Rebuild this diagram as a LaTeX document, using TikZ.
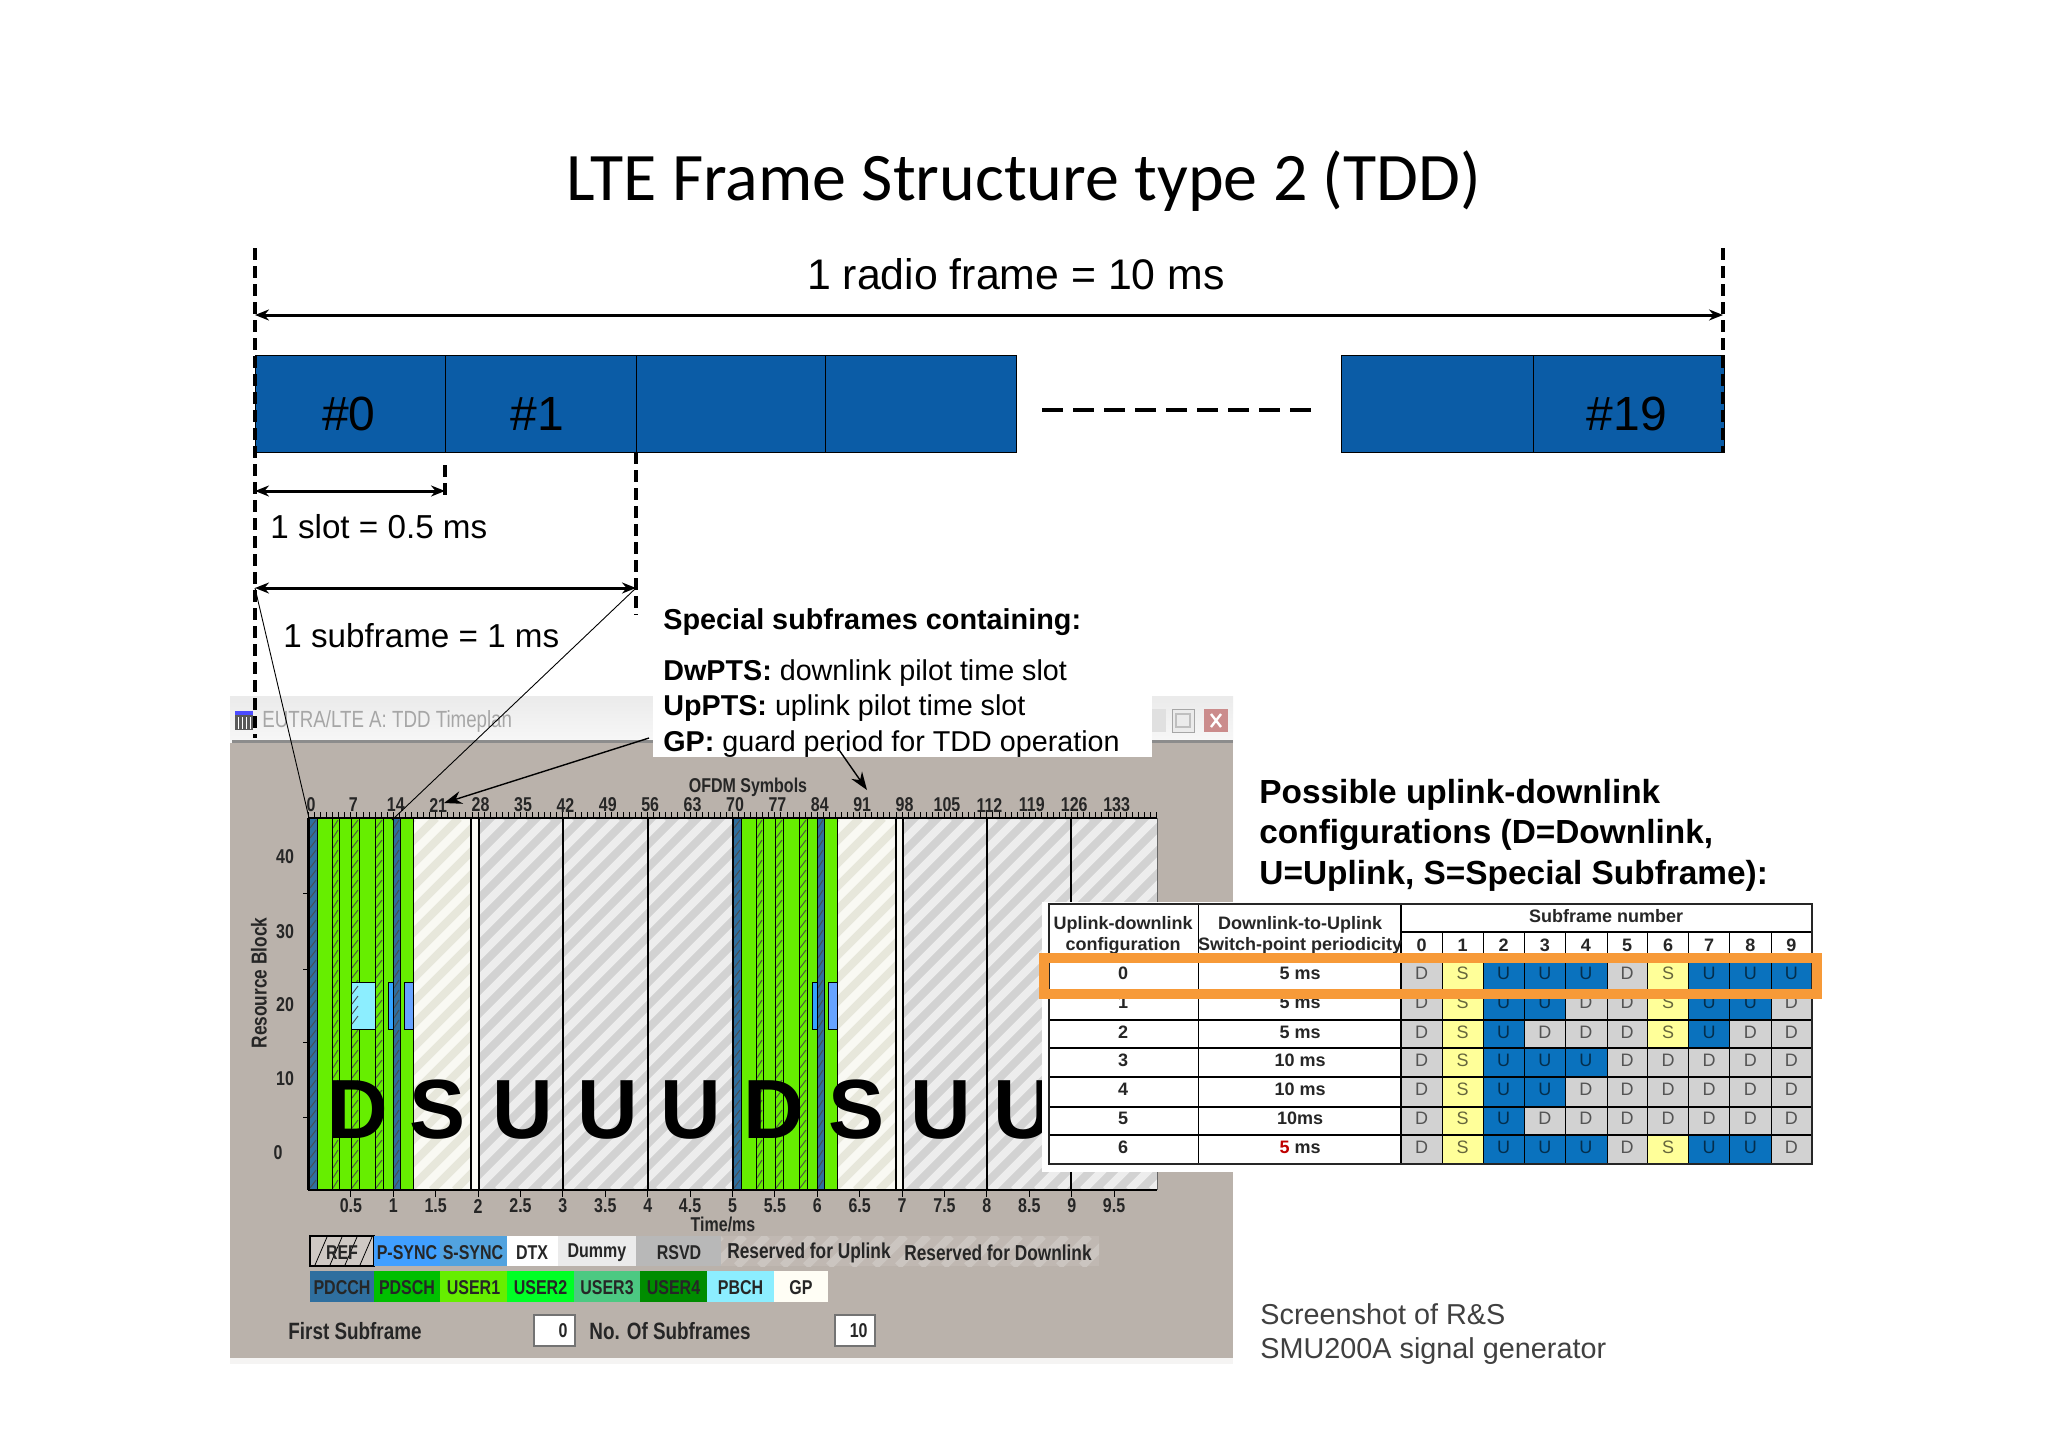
\documentclass[tikz,border=0pt]{standalone}
\usepackage{fontspec}
\usetikzlibrary{arrows.meta}
\setmainfont{Liberation Sans}
\newfontfamily\titlefont{Carlito}
\newfontfamily\shotfont[FakeStretch=0.8]{Liberation Sans}

\definecolor{framebar}{HTML}{0B5CA6}
\definecolor{windowgrey}{HTML}{BAB2AB}
\definecolor{pdschgreen}{HTML}{66EE00}
\definecolor{pdcchblue}{HTML}{2F6F9F}
\definecolor{pbchcyan}{HTML}{8CEEFF}
\definecolor{gpwhite}{HTML}{F9F9F3}
\definecolor{gpstripe}{HTML}{E7E7DB}
\definecolor{highlight}{HTML}{F79A38}
\definecolor{cellD}{HTML}{D2D2D2}
\definecolor{cellS}{HTML}{FFFF99}
\definecolor{cellU}{HTML}{0A72BE}

\tikzset{
    label20/.style={font=\fontsize{21.4}{24}\selectfont, inner sep=0pt},
    label24/.style={font=\fontsize{24}{28}\selectfont, inner sep=0pt},
    label16/.style={font=\fontsize{16.6}{20}\selectfont, inner sep=0pt, anchor=west},
    note/.style={font=\fontsize{14.35}{18}\selectfont, inner sep=0pt, anchor=west},
    subheading/.style={font=\fontsize{14.4}{18}\selectfont\bfseries, inner sep=0pt, anchor=west},
    heading/.style={font=\fontsize{16.7}{20}\selectfont\bfseries, inner sep=0pt, anchor=west},
    caption/.style={font=\fontsize{14.4}{18}\selectfont, text=black!75, inner sep=0pt, anchor=west},
    shot/.style={font=\shotfont\fontsize{10}{11}\selectfont\bfseries, text=black!85, inner sep=0pt},
    shotlarge/.style={font=\shotfont\fontsize{11.8}{13}\selectfont\bfseries, text=black!85, inner sep=0pt},
    shotmid/.style={font=\shotfont\fontsize{10.8}{12}\selectfont\bfseries, text=black!85, inner sep=0pt},
    bigletter/.style={font=\fontsize{42}{43}\selectfont\bfseries, inner sep=0pt},
    tabletext/.style={font=\fontsize{9}{10}\selectfont\bfseries, text=black!85, inner sep=0pt},
    celltext/.style={font=\fontsize{9}{10}\selectfont, inner sep=0pt},
    cutline/.style={line width=1.6pt, dash pattern=on 6pt off 3pt},
    span/.style={{Stealth[length=7pt,width=5.5pt]}-{Stealth[length=7pt,width=5.5pt]}, line width=1.5pt},
    leader/.style={line width=0.45pt},
    pointer/.style={-{Stealth[length=9pt,width=6.5pt]}, line width=0.7pt},
    slotline/.style={draw=black, line width=0.4pt, fill=framebar},
    gridline/.style={line width=0.6pt},
    tableline/.style={line width=0.8pt},
}

% stripes used for the reserved and guard period areas
\newcommand{\hatchband}[6]{%
    \begin{scope}
        \clip (#1,#2) rectangle (#3,#4);
        \fill[#5] (#1,#2) rectangle (#3,#4);
        \pgfmathsetmacro{\bandh}{#4-#2}
        \pgfmathsetmacro{\xa}{#1-\bandh}
        \pgfmathsetmacro{\xb}{\xa+23}
        \foreach \x in {\xa,\xb,...,#3}
            \draw[#6, line width=4pt] (\x,#4) -- (\x+\bandh,#2);
    \end{scope}}

% narrow column with small diagonal strokes
\newcommand{\refband}[3]{%
    \fill[#3] (#1,818) rectangle (#2,1190);
    \foreach \y in {820,830,...,1180}
        \draw[black!70, line width=0.45pt] (#1+1,\y+8) -- (#2-1,\y);
    \draw[black, line width=0.35pt] (#1,818) -- (#1,1190) (#2,818) -- (#2,1190);}

\begin{document}
\begin{tikzpicture}[x=0.5pt, y=-0.5pt]
    \useasboundingbox (0,0) rectangle (2048,1447);
    \fill[white] (0,0) rectangle (2048,1447);

    % Title
    \node[font=\titlefont\fontsize{34}{38}\selectfont, inner sep=0pt] (title) at (1024,181) {LTE Frame Structure type 2 (TDD)};

    % The screenshot window
    \fill[windowgrey] (230,742) rectangle (1233,1361);
    \fill[white!85!windowgrey] (230,1358) rectangle (1233,1364);
    \shade[top color=black!8, bottom color=black!3] (230,696) rectangle (1233,742);
    \fill[black!45] (232,740) rectangle (1233,743);
    \fill[black!65] (235,711) rectangle (253,730);
    \fill[blue!70] (235,711) rectangle (253,715);
    \foreach \x in {238,242,...,250}
        \draw[white, line width=0.5pt] (\x,717) -- (\x,729);
    \node[shot, anchor=west, text=black!35, font=\shotfont\fontsize{11.7}{13}\selectfont] (wintitle) at (262,721) {EUTRA/LTE A: TDD Timeplan};
    \fill[black!12] (1152,709) rectangle (1166,732);
    \draw[black!35, fill=black!8] (1172,709) rectangle (1194,732);
    \draw[black!25, line width=1pt] (1176,714) rectangle (1190,727);
    \fill[red!55!black!45] (1204,709) rectangle (1228,732);
    \draw[white, line width=1.2pt] (1211,714) -- (1221,727) (1221,714) -- (1211,727);

    % Plot areas
    \hatchband{413}{818}{471}{1190}{gpwhite}{gpstripe}
    \hatchband{479}{818}{733}{1190}{cellD}{black!7}
    \hatchband{837}{818}{896}{1190}{gpwhite}{gpstripe}
    \hatchband{903}{818}{1157}{1190}{cellD}{black!7}
    \fill[gpwhite] (471,818) rectangle (479,1190);
    \fill[gpwhite] (896,818) rectangle (903,1190);

    % The two downlink subframes, 5 ms apart
    \foreach \s in {0,424} {
        \fill[pdschgreen] (317+\s,818) rectangle (413+\s,1190);
        \refband{309+\s}{317+\s}{pdcchblue}
        \refband{332+\s}{339+\s}{pdschgreen}
        \refband{351+\s}{359+\s}{pdschgreen}
        \refband{375+\s}{383+\s}{pdschgreen}
        \refband{393+\s}{400+\s}{pdcchblue}
        \draw[black, line width=0.35pt] (413+\s,818) -- (413+\s,1190);
        \draw[black, fill=blue!45!cyan!80, line width=0.4pt] (388+\s,982) rectangle (393+\s,1029);
        \draw[black, fill=blue!60!cyan!60, line width=0.4pt] (404+\s,982) rectangle (413+\s,1029);
    }
    \draw[black, fill=pbchcyan, line width=0.5pt] (351,982) rectangle (375,1029);
    \foreach \y in {986,996,...,1020}
        \draw[black!70, line width=0.45pt] (352,\y+8) -- (358,\y);

    % Vertical lines of the plot
    \foreach \x in {471,479,563,648,733,896,903,987,1071}
        \draw[gridline] (\x,818) -- (\x,1190);
    \draw[line width=0.5pt, black!60] (1157,818) -- (1157,1190);
    \draw[line width=1pt] (308,1190) -- (1157,1190);
    \draw[line width=0.7pt] (308,818) -- (1157,818);
    \draw[line width=0.7pt] (308,818) -- (308,1190);
    \foreach \y in {893,969,1042,1117}
        \draw[line width=0.5pt] (303,\y) -- (308,\y);

    % Top scale in OFDM symbols
    \foreach \n in {0,...,140}
        \draw[line width=0.5pt] (308.5+6.057*\n,812) -- (308.5+6.057*\n,818);
    \foreach \n [count=\i from 0] in {0,7,14,21,28,35,42,49,56,63,70,77,84,91,98,105,112,119,126,133}
        \node[shot] (sym\n) at (311+42.4*\i,805) {\n};
    \node[shot] (symtitle) at (748,787) {OFDM Symbols};

    % Bottom scale in ms
    \foreach \t [count=\i] in {0.5,1,1.5,2,2.5,3,3.5,4,4.5,5,5.5,6,6.5,7,7.5,8,8.5,9,9.5} {
        \draw[line width=0.5pt] (308.5+42.4*\i,1190) -- (308.5+42.4*\i,1197);
        \node[shot] (time\i) at (308.5+42.4*\i,1206) {\t};
    }
    \node[shot] (timetitle) at (723,1224) {Time/ms};

    % Left scale
    \foreach \v/\y in {40/857,30/932,20/1005,10/1079} 
        \node[shot] (rb\v) at (285,\y) {\v};
    \node[shot] (rb0) at (278,1153) {0};
    \node[shotmid, rotate=90] (rbtitle) at (259,983) {Resource Block};

    % Subframe letters
    \foreach \l/\x [count=\i] in {D/358,S/438,U/523,U/608,U/691,D/774,S/856,U/941,U/1024}
        \node[bigletter] (sub\i) at (\x,1110) {\l};

    % Legend, first row
    \draw[black, line width=0.6pt, fill=windowgrey!70] (310,1236) rectangle (374,1266);
    \foreach \x in {315,330,345,360}
        \draw[line width=0.4pt] (\x,1265) -- (\x+12,1237);
    \node[shot] (lgref) at (342,1253) {REF};
    \fill[blue!50!cyan!75] (374,1236) rectangle (440,1266);
    \node[shot] (lgpsync) at (407,1253) {P-SYNC};
    \fill[cyan!70!blue!70] (440,1236) rectangle (507,1266);
    \node[shot] (lgssync) at (473,1253) {S-SYNC};
    \fill[white] (507,1236) rectangle (558,1266);
    \node[shot] (lgdtx) at (532,1253) {DTX};
    \fill[black!8] (558,1236) rectangle (636,1266);
    \node[shot] (lgdummy) at (597,1253) {Dummy};
    \fill[black!28] (636,1236) rectangle (721,1266);
    \node[shot] (lgrsvd) at (679,1253) {RSVD};
    \hatchband{721}{1236}{1099}{1266}{windowgrey!92!white}{windowgrey!75!white}
    \node[shotmid] (lgresup) at (809,1253) {Reserved for Uplink};
    \node[shotmid] (lgresdown) at (998,1253) {Reserved for Downlink};

    % Legend, second row
    \foreach \xa/\xb/\c/\t in {310/374/pdcchblue/PDCCH, 374/440/green!75!black/PDSCH, 440/507/pdschgreen/USER1, 507/574/green!85!cyan/USER2, 574/640/green!40!teal!70/USER3, 640/707/green!55!black/USER4, 707/774/pbchcyan/PBCH, 774/828/yellow!4/GP} {
        \fill[\c] (\xa,1271) rectangle (\xb,1302);
        \node[shot] (lg\t) at ({(\xa+\xb)/2},1288) {\t};
    }

    % Bottom controls
    \node[shotlarge, anchor=west] (first) at (288,1331) {First Subframe};
    \draw[black!55, fill=white, line width=0.6pt] (534,1315) rectangle (575,1346);
    \node[shot, anchor=east] (firstval) at (568,1331) {0};
    \node[shotlarge, anchor=west] (count) at (589,1331) {No. Of Subframes};
    \draw[black!55, fill=white, line width=0.6pt] (835,1315) rectangle (875,1346);
    \node[shot, anchor=east] (countval) at (868,1331) {10};

    % White area behind the special subframes note
    \fill[white] (653,600) rectangle (1152,757);
    \node[subheading] (special) at (663,622) {Special subframes containing:};
    \node[note] (dwpts) at (663,673) {\textbf{DwPTS:} downlink pilot time slot};
    \node[note] (uppts) at (663,708) {\textbf{UpPTS:} uplink pilot time slot};
    \node[note] (gp) at (663,744) {\textbf{GP:} guard period for TDD operation};

    % The frame and its twenty slots
    \foreach \xa/\xb [count=\i] in {255/445,445/636,636/825,825/1016,1341/1533,1533/1724}
        \draw[slotline] (\xa,355) rectangle (\xb,452) coordinate (slot\i);
    \node[label24] (s0) at (349,414) {\#0};
    \node[label24] (s1) at (537,414) {\#1};
    \node[label24] (s19) at (1627,414) {\#19};
    \coordinate (GapA) at (1042,410);
    \coordinate (GapB) at (1311,410);
    \draw[line width=2.2pt, dash pattern=on 10.5pt off 5pt] (GapA) -- (GapB);

    % Cut lines
    \coordinate (FrameTop) at (255,248);
    \coordinate (FrameBottom) at (255,738);
    \coordinate (EndTop) at (1723,248);
    \coordinate (EndBottom) at (1723,452);
    \coordinate (SlotTop) at (445,465);
    \coordinate (SlotBottom) at (445,495);
    \coordinate (SubTop) at (636,452);
    \coordinate (SubBottom) at (636,615);
    \draw[cutline] (FrameTop) -- (FrameBottom);
    \draw[cutline] (EndTop) -- (EndBottom);
    \draw[cutline] (SlotTop) -- (SlotBottom);
    \draw[cutline] (SubTop) -- (SubBottom);

    % Durations
    \coordinate (FrameL) at (255,315);
    \coordinate (FrameR) at (1723,315);
    \draw[span] (FrameL) -- (FrameR);
    \node[label20] (framelabel) at (1016,274) {1 radio frame = 10 ms};
    \coordinate (SlotL) at (255,491);
    \coordinate (SlotR) at (445,491);
    \draw[span] (SlotL) -- (SlotR);
    \node[label16] (slotlabel) at (270,527) {1 slot = 0.5 ms};
    \coordinate (SubL) at (255,588);
    \coordinate (SubR) at (636,588);
    \draw[span] (SubL) -- (SubR);
    \node[label16] (sublabel) at (283,636) {1 subframe = 1 ms};

    % Lines from the subframe down to the screenshot
    \coordinate (PlotA) at (309,818);
    \coordinate (PlotB) at (392,820);
    \draw[leader] (SubL) -- (PlotA);
    \draw[leader] (SubR) -- (PlotB);
    \coordinate (GpStart) at (649,738);
    \coordinate (GpEndA) at (444,803);
    \coordinate (GpStop) at (837,747);
    \coordinate (GpEndB) at (867,790);
    \draw[pointer] (GpStart) -- (GpEndA);
    \draw[pointer] (GpStop) -- (GpEndB);

    % Text right of the screenshot
    \node[heading] (cfg1) at (1259,795) {Possible uplink-downlink};
    \node[heading] (cfg2) at (1259,835) {configurations (D=Downlink,};
    \node[heading] (cfg3) at (1259,876) {U=Uplink, S=Special Subframe):};
    \node[caption] (shot1) at (1260,1314) {Screenshot of R\&S};
    \node[caption] (shot2) at (1260,1351) {SMU200A signal generator};

    % Table of configurations
    \fill[white] (1042,902) rectangle (1825,1172);
    \foreach \row/\y/\cells in {0/962/{D,S,U,U,U,D,S,U,U,U}, 1/990/{D,S,U,U,D,D,S,U,U,D}, 2/1020/{D,S,U,D,D,D,S,U,D,D}, 3/1048/{D,S,U,U,U,D,D,D,D,D}, 4/1077/{D,S,U,U,D,D,D,D,D,D}, 5/1107/{D,S,U,D,D,D,D,D,D,D}, 6/1135/{D,S,U,U,U,D,S,U,U,D}}
        \foreach \c [count=\i from 0] in \cells
            \fill[cell\c] (1401+41.1*\i,\y) rectangle (1442.1+41.1*\i,\y+29);
    \foreach \row/\y/\cells in {0/973/{D,S,U,U,U,D,S,U,U,U}, 1/1002/{D,S,U,U,D,D,S,U,U,D}, 2/1032/{D,S,U,D,D,D,S,U,D,D}, 3/1060/{D,S,U,U,U,D,D,D,D,D}, 4/1089/{D,S,U,U,D,D,D,D,D,D}, 5/1118/{D,S,U,D,D,D,D,D,D,D}, 6/1147/{D,S,U,U,U,D,S,U,U,D}}
        \foreach \c [count=\i from 0] in \cells
            \node[celltext, text=cell\c!40!black] (c\row-\i) at (1421.5+41.1*\i,\y) {\c};
    \foreach \y in {990,1020,1048,1077,1107,1135}
        \draw[tableline] (1049,\y) -- (1812,\y);
    \draw[tableline] (1401,932) -- (1812,932);
    \draw[tableline] (1049,962) -- (1812,962);
    \draw[line width=0.4pt] (1198,904) -- (1198,1164);
    \draw[tableline] (1401,904) -- (1401,1164);
    \foreach \x in {1442,1483,1524,1565,1607,1647,1688,1729,1771}
        \draw[line width=0.4pt] (\x,932) -- (\x,1164);
    \draw[line width=1.3pt, black!85] (1049,904) rectangle (1812,1164);

    % Table head
    \node[tabletext] (h1) at (1123,925) {Uplink-downlink};
    \node[tabletext] (h2) at (1123,946) {configuration};
    \node[tabletext] (h3) at (1300,925) {Downlink-to-Uplink};
    \node[tabletext] (h4) at (1300,946) {Switch-point periodicity};
    \node[tabletext] (h5) at (1606,916) {Subframe number};
    \foreach \n in {0,...,9}
        \node[tabletext] (col\n) at (1421.5+41.1*\n,945) {\n};

    % First two columns of the table
    \foreach \n/\y/\t in {0/973/5 ms,1/1002/5 ms,2/1032/5 ms,3/1060/10 ms,4/1089/10 ms,5/1118/10ms} {
        \node[tabletext] (cfg-\n) at (1123,\y) {\n};
        \node[tabletext] (per-\n) at (1300,\y) {\t};
    }
    \node[tabletext] (cfg-6) at (1123,1147) {6};
    \node[tabletext] (per-6) at (1300,1147) {\textcolor{red!75!black}{5} ms};

    % Highlight of configuration 0
    \draw[highlight, line width=5pt] (1044,958) rectangle (1817,994);
\end{tikzpicture}
\end{document}
